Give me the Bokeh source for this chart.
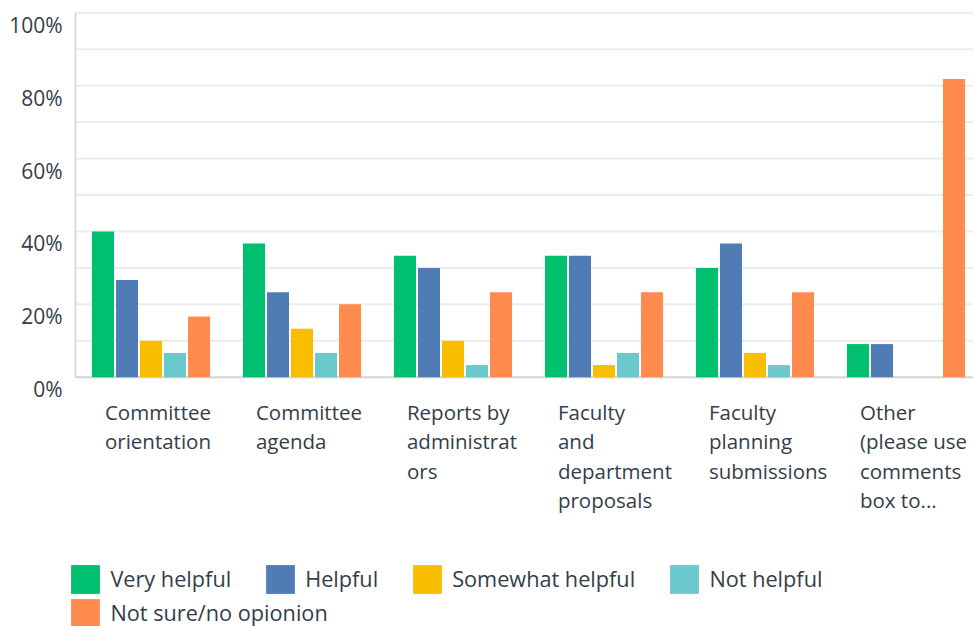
from bokeh.plotting import figure
from bokeh.models import (ColumnDataSource, Range1d, Label, Legend, LegendItem)
from bokeh.transform import dodge
from bokeh.embed import file_html
from bokeh.resources import INLINE

# ---- data ----
categories = ["Committee orientation", "Committee agenda", "Reports by administrators",
              "Faculty and department proposals", "Faculty planning submissions",
              "Other (please use comments box to..."]
category_labels = ["Committee\norientation", "Committee\nagenda", "Reports by\nadministrat\nors",
                   "Faculty\nand\ndepartment\nproposals", "Faculty\nplanning\nsubmissions",
                   "Other\n(please use\ncomments\nbox to..."]
series_names = ["Very helpful", "Helpful", "Somewhat helpful", "Not helpful", "Not sure/no opionion"]
very_helpful = [40.00, 36.67, 33.33, 33.33, 30.00, 9.09]
helpful = [26.67, 23.33, 30.00, 33.33, 36.67, 9.09]
somewhat_helpful = [10.00, 13.33, 10.00, 3.33, 6.67, 0.0]
not_helpful = [6.67, 6.67, 3.33, 6.67, 3.33, 0.0]
not_sure = [16.67, 20.00, 23.33, 23.33, 23.33, 81.82]
y_ticks = [0, 20, 40, 60, 80, 100]
y_tick_labels = ["0%", "20%", "40%", "60%", "80%", "100%"]
grid_ticks = [10, 20, 30, 40, 50, 60, 70, 80, 90, 100]

colors = ["#00BF6F", "#507CB6", "#F9BE00", "#6BC8CD", "#FF8B4F"]
offsets = [-0.318, -0.159, 0.0, 0.159, 0.318]
bar_w = 0.146
TEXT = "#333e48"
FONT = "Open Sans"

W, H = 973, 626
PX_X = 151.0          # pixels per category
PX_Y = 3.644          # pixels per percent
LEFT, BASE = 75.0, 376.7
x0 = -0.5 - LEFT / PX_X
x1 = -0.5 + (W - LEFT) / PX_X
y0 = -(H - BASE) / PX_Y
y1 = 100 + (BASE - 100 * PX_Y) / PX_Y

x_idx = list(range(len(categories)))
source = ColumnDataSource(dict(x=x_idx, s0=very_helpful, s1=helpful, s2=somewhat_helpful,
                               s3=not_helpful, s4=not_sure))

p = figure(width=W, height=H, output_backend="svg", toolbar_location=None,
           x_range=Range1d(x0, x1), y_range=Range1d(y0, y1),
           min_border=0)
p.outline_line_color = None
p.xaxis.visible = False
p.yaxis.visible = False
p.xgrid.visible = False
p.ygrid.visible = False

# gridlines, baseline and left axis line
p.segment(x0=[-0.5] * len(grid_ticks), x1=[x1] * len(grid_ticks), y0=grid_ticks, y1=grid_ticks,
          line_color="#ececec", line_width=2)
p.segment(x0=[-0.5], x1=[x1], y0=[0], y1=[0], line_color="#d3d3d3", line_width=2)
p.segment(x0=[-0.5], x1=[-0.5], y0=[0], y1=[100], line_color="#dadada", line_width=2)

renderers = []
for k, (name, c, off) in enumerate(zip(series_names, colors, offsets)):
    r = p.vbar(x=dodge("x", off, range=p.x_range), top=f"s{k}", width=bar_w, source=source,
               fill_color=c, line_color=None)
    renderers.append(r)

for t, lab in zip(y_ticks, y_tick_labels):
    p.add_layout(Label(x=-0.586, y=t - 3.3, text=lab, text_align="right", text_baseline="middle",
                       text_font=FONT, text_font_size="21px", text_color=TEXT))

for i, lab in zip(x_idx, category_labels):
    p.add_layout(Label(x=i - 0.305, y=-5.8, text=lab, text_align="left", text_baseline="top",
                       text_font=FONT, text_font_size="20.5px", text_color=TEXT,
                       text_line_height=1.04))

common = dict(orientation="horizontal", margin=0, padding=0, border_line_color=None,
              background_fill_alpha=0, glyph_width=36, glyph_height=36, label_standoff=7,
              spacing=31, label_text_font=FONT, label_text_font_size="21.7px",
              label_text_color=TEXT, label_height=36)
leg1 = Legend(items=[LegendItem(label=series_names[k], renderers=[renderers[k]]) for k in range(3)],
              location=(67.4, 29.4), **common)
leg1b = Legend(items=[LegendItem(label=series_names[3], renderers=[renderers[3]])],
               location=(666.4, 29.4), **common)
leg2 = Legend(items=[LegendItem(label=series_names[4], renderers=[renderers[4]])],
              location=(67.4, -4.6), **common)
p.add_layout(leg1)
p.add_layout(leg1b)
p.add_layout(leg2)

open("out.html", "w").write(file_html(p, INLINE))
